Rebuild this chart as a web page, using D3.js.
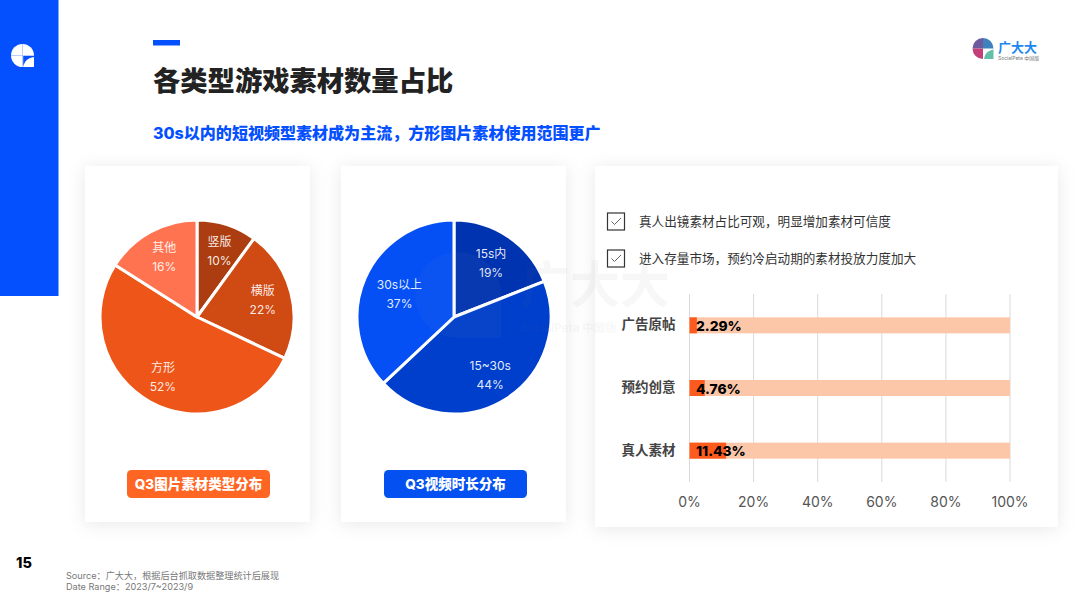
<!DOCTYPE html>
<html><head><meta charset="utf-8">
<script src="https://cdnjs.cloudflare.com/ajax/libs/d3/7.8.5/d3.min.js"></script>
<style>
html,body{margin:0;padding:0;background:#fff;overflow:hidden}
svg{display:block}
text{font-family:Inter,"Noto Sans CJK SC","Noto Sans",sans-serif}
</style></head><body>
<svg id="c" width="1080" height="598" viewBox="0 0 1080 598"></svg>
<script>
const imageCats=["竖版","横版","方形","其他"];
const imageVals=[10,22,52,16];
const imageColors=["#ab3d10","#d04a14","#ee5519","#ff7351"];
const videoCats=["15s内","15~30s","30s以上"];
const videoVals=[19,44,37];
const videoColors=["#0033b0","#003fcb","#0450f5"];
const barCats=["广告原帖","预约创意","真人素材"];
const barVals=[2.29,4.76,11.43];
const barLabels=["2.29%","4.76%","11.43%"];
const barTicks=[0,20,40,60,80,100];
const notes=["真人出镜素材占比可观，明显增加素材可信度","进入存量市场，预约冷启动期的素材投放力度加大"];

const svg=d3.select("#c");
const defs=svg.append("defs");
const f=defs.append("filter").attr("id","sh").attr("x","-15%").attr("y","-15%").attr("width","130%").attr("height","130%");
f.append("feDropShadow").attr("dx",0).attr("dy",2).attr("stdDeviation",9).attr("flood-color","#000").attr("flood-opacity",0.09);

// page furniture
svg.append("rect").attr("x",0).attr("y",0).attr("width",58.5).attr("height",296).attr("fill","#0450ff");
svg.append("rect").attr("x",153).attr("y",40).attr("width",27).attr("height",5.5).attr("fill","#0450ff");
svg.append("text").attr("x",153).attr("y",91).attr("font-size",27.3).attr("font-weight",800).attr("fill","#222").text("各类型游戏素材数量占比");
svg.append("text").attr("x",153).attr("y",139).attr("font-size",16.05).attr("font-weight",800).attr("fill","#0450ff").text("30s以内的短视频型素材成为主流，方形图片素材使用范围更广");

// sidebar mark
{
  const g=svg.append("g");
  const cx=22.5,cy=55.5,r=11.5;
  g.append("path").attr("fill","#fff").attr("d",`M${cx-r},${cy}A${r},${r} 0 0 1 ${cx+r},${cy}V${cy+r}H${cx}A${r},${r} 0 0 1 ${cx-r},${cy}Z`);
  g.append("path").attr("fill","#0450ff").attr("d",`M${cx+.7},${cy+r}C${cx+2},${cy+5.5} ${cx+5.5},${cy+2.5} ${cx+r},${cy+1.6}V${cy+.6}H${cx+.7}Z`);
  g.append("path").attr("stroke","#a8c2ff").attr("stroke-width",.8).attr("fill","none").attr("d",`M${cx-r},${cy}H${cx+r}M${cx},${cy-r}V${cy+r}`);
}
// brand top right
{
  const g=svg.append("g");
  const cx=983,cy=48.5,r=10.5;
  const q=d3.arc().innerRadius(0).outerRadius(r);
  [[-Math.PI/2,0,"#6d5a9e"],[0,Math.PI/2,"#3f80bd"],[Math.PI,Math.PI*1.5,"#c23f78"]].forEach(p=>
    g.append("path").attr("transform",`translate(${cx},${cy})`).attr("d",q({startAngle:p[0],endAngle:p[1]})).attr("fill",p[2]));
  g.append("path").attr("fill","#63bfa6").attr("d",`M${cx+1},${cy+r}C${cx+2},${cy+5} ${cx+5},${cy+2} ${cx+r},${cy+1}V${cy+r}Z`);
  g.append("text").attr("x",998).attr("y",51.5).attr("font-size",13).attr("font-weight",700).attr("fill","#1e86f0").text("广大大");
  g.append("text").attr("x",998).attr("y",59.5).attr("font-size",5).attr("fill","#777").text("SocialPeta 中国版");
}

// cards
[[85,166,224.5,356],[341,166,225,356],[595,166,463,361]].forEach(d=>
  svg.append("rect").attr("x",d[0]).attr("y",d[1]).attr("width",d[2]).attr("height",d[3]).attr("fill","#fff").attr("filter","url(#sh)"));

// pies
function pie(cx,cy,R,vals,cols){
  const g=svg.append("g").attr("transform",`translate(${cx},${cy})`);
  const arcs=d3.pie().sort(null).value(d=>d)(vals);
  const arc=d3.arc().innerRadius(0).outerRadius(R);
  g.selectAll("path").data(arcs).join("path").attr("d",arc).attr("fill",(d,i)=>cols[i])
    .attr("stroke","#fff").attr("stroke-width",3).attr("stroke-linejoin","round");
  return {g,arcs};
}
function labels(p,cats,vals,offs){
  p.arcs.forEach((a,i)=>{
    const [x,y]=d3.arc().innerRadius(0).outerRadius(2*offs[i][0]).centroid(a);
    const lx=x+offs[i][1], ly=y+offs[i][2];
    p.g.append("text").attr("x",lx).attr("y",ly-5).attr("text-anchor","middle").attr("font-size",12).attr("fill","#fff").attr("fill-opacity",.9).text(cats[i]);
    p.g.append("text").attr("x",lx).attr("y",ly+14).attr("text-anchor","middle").attr("font-size",12).attr("fill","#fff").attr("fill-opacity",.9).text(vals[i]+"%");
  });
}
const p1=pie(197,317,97,imageVals,imageColors);
labels(p1,imageCats,imageVals,[[66,2,-3],[70,-2,0],[52,-9,14],[68,0,0]]);
const p2=pie(454,317,97,videoVals,videoColors);

// watermark
{
  const g=svg.append("g").attr("opacity",.05);
  const cx=458,cy=295,r=43;
  g.append("path").attr("fill","#9ab").attr("d",`M${cx-r},${cy}A${r},${r} 0 0 1 ${cx+r},${cy}V${cy+r}H${cx}A${r},${r} 0 0 1 ${cx-r},${cy}Z`);
  g.append("text").attr("x",520).attr("y",303).attr("font-size",50).attr("font-weight",700).attr("fill","#778").text("广大大");
  g.append("text").attr("x",520).attr("y",332).attr("font-size",11.5).attr("font-weight",700).attr("fill","#778").text("SocialPeta 中国版");
}
labels(p2,videoCats,videoVals,[[66,0,1],[60,4,7],[66,6,3]]);

// badges
[[127,"#ff6624","Q3图片素材类型分布"],[384,"#0450f0","Q3视频时长分布"]].forEach(d=>{
  svg.append("rect").attr("x",d[0]).attr("y",470).attr("width",143).attr("height",28).attr("rx",4.5).attr("fill",d[1]);
  svg.append("text").attr("x",d[0]+71.5).attr("y",489).attr("text-anchor","middle").attr("font-size",13.5).attr("font-weight",800).attr("fill","#fff").text(d[2]);
});

// checklist
const noteY=d3.scalePoint().domain(notes).range([221.5,258.5]);
notes.forEach(n=>{
  const y=noteY(n);
  svg.append("rect").attr("x",607.5).attr("y",y-8.5).attr("width",17).attr("height",17).attr("fill","#fff").attr("stroke","#333").attr("stroke-width",1.2);
  svg.append("path").attr("fill","none").attr("stroke","#555").attr("stroke-width",.9).attr("d",`M611.5,${y}L614.5,${y+3}L621,${y-3.5}`);
  svg.append("text").attr("x",639).attr("y",y+4).attr("font-size",12.6).attr("fill","#333").text(n);
});

// bar chart
const x=d3.scaleLinear().domain([0,100]).range([689.5,1010]);
const y=d3.scaleBand().domain(barCats).range([294,482]).paddingInner(0);
const bars=svg.append("g");
bars.selectAll("line.g").data(barTicks).join("line").attr("class","g")
  .attr("x1",d=>x(d)).attr("x2",d=>x(d)).attr("y1",294).attr("y2",482).attr("stroke","#d9d9d9").attr("stroke-width",1);
bars.selectAll("rect.b").data(barCats).join("rect").attr("class","b")
  .attr("x",x(0)).attr("width",x(100)-x(0)).attr("y",d=>y(d)+y.bandwidth()/2-8).attr("height",16).attr("fill","#fcc7a9");
bars.selectAll("rect.v").data(barCats).join("rect").attr("class","v")
  .attr("x",x(0)).attr("width",(d,i)=>x(barVals[i])-x(0)).attr("y",d=>y(d)+y.bandwidth()/2-8).attr("height",16).attr("fill","#fd5a1e");
bars.selectAll("text.l").data(barLabels).join("text").attr("class","l")
  .attr("x",696).attr("y",(d,i)=>y(barCats[i])+y.bandwidth()/2+5.5).attr("font-size",13.8).attr("font-weight",800).attr("fill","#000").text(d=>d);
bars.selectAll("text.c").data(barCats).join("text").attr("class","c")
  .attr("x",675.5).attr("y",d=>y(d)+y.bandwidth()/2+4).attr("text-anchor","end").attr("font-size",13.5).attr("font-weight",700).attr("fill","#444").text(d=>d);
bars.selectAll("text.t").data(barTicks).join("text").attr("class","t")
  .attr("x",d=>x(d)).attr("y",507).attr("text-anchor","middle").attr("font-size",14).attr("fill","#555").text(d=>d+"%");

// footer
svg.append("text").attr("x",16).attr("y",568).attr("font-size",14.5).attr("font-weight",800).attr("fill","#000").text("15");
svg.append("text").attr("x",66).attr("y",578.5).attr("font-size",9.15).attr("fill","#777").text("Source：广大大，根据后台抓取数据整理统计后展现");
svg.append("text").attr("x",66).attr("y",590).attr("font-size",9.15).attr("fill","#777").text("Date Range：2023/7~2023/9");
</script>
</body></html>
